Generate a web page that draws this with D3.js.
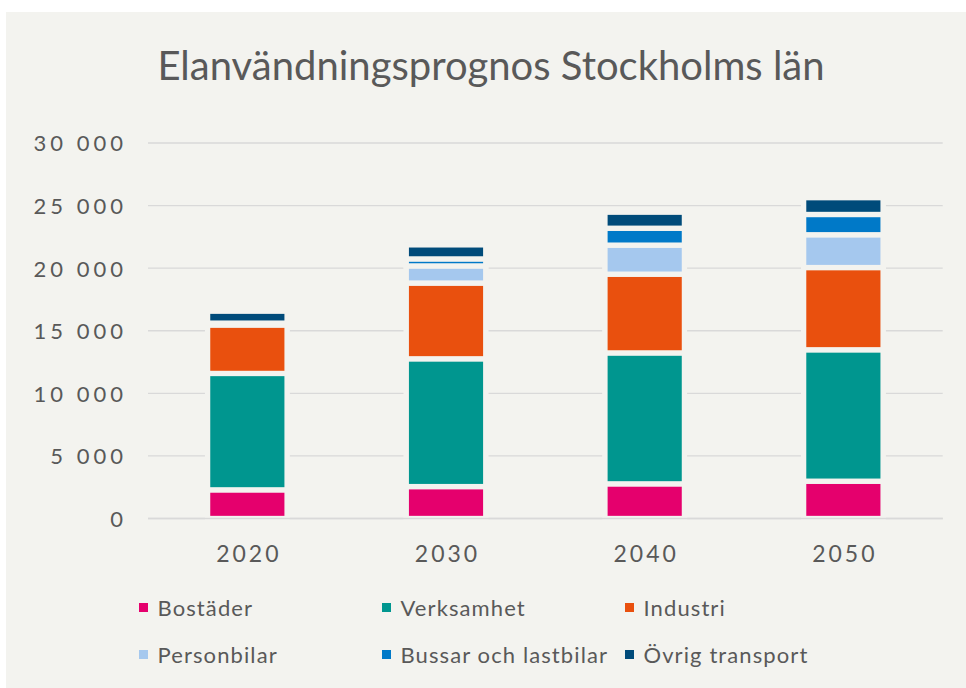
<!DOCTYPE html>
<html>
<head>
<meta charset="utf-8">
<script src="https://cdn.jsdelivr.net/npm/d3@7"></script>
<style>
  html, body { margin: 0; padding: 0; background: #ffffff; }
  text { font-family: Lato, "Noto Sans", sans-serif; fill: #595959; }
</style>
</head>
<body>
<div id="chart"></div>
<script>
// Chart data
var years = ["2020", "2030", "2040", "2050"];
var seriesNames = ["Bostäder", "Verksamhet", "Industri", "Personbilar", "Bussar och lastbilar", "Övrig transport"];
var seriesColors = ["#e5006d", "#00968f", "#e9500e", "#a5c8ee", "#0079c8", "#004b7a"];
var bostader = [2290, 2550, 2770, 2980];
var verksamhet = [9300, 10210, 10460, 10500];
var industri = [3870, 6050, 6290, 6570];
var personbilar = [150, 1370, 2320, 2620];
var bussar = [0, 560, 1350, 1620];
var ovrig = [950, 1120, 1280, 1340];
var yTicks = [0, 5000, 10000, 15000, 20000, 25000, 30000];

var width = 966, height = 688;
var bg = "#f3f3ef";

// build rows for the stack
var rows = years.map(function(y, i) {
  return {
    year: y,
    "Bostäder": bostader[i],
    "Verksamhet": verksamhet[i],
    "Industri": industri[i],
    "Personbilar": personbilar[i],
    "Bussar och lastbilar": bussar[i],
    "Övrig transport": ovrig[i]
  };
});

var svg = d3.select("#chart").append("svg")
  .attr("width", width)
  .attr("height", height);

// panel background
svg.append("rect")
  .attr("x", 6).attr("y", 12)
  .attr("width", width - 6).attr("height", height - 12)
  .attr("fill", bg);

// title
svg.append("text")
  .attr("x", 491).attr("y", 80)
  .attr("text-anchor", "middle")
  .style("font-size", "40px")
  .text("Elanvändningsprognos Stockholms län");

var x = d3.scaleBand()
  .domain(years)
  .range([148, 942.7])
  .paddingInner(0.6)
  .paddingOuter(0.3);

var y = d3.scaleLinear()
  .domain([0, 30000])
  .range([518.5, 143]);

var color = d3.scaleOrdinal().domain(seriesNames).range(seriesColors);

// gridlines
svg.append("g").selectAll("line")
  .data(yTicks)
  .enter().append("line")
  .attr("x1", 148).attr("x2", 942.7)
  .attr("y1", function(d) { return y(d); })
  .attr("y2", function(d) { return y(d); })
  .attr("stroke", "#d9d9d9")
  .attr("stroke-width", 1.3);

// y axis labels (no domain line)
var yAxis = d3.axisLeft(y)
  .tickValues(yTicks)
  .tickSize(0)
  .tickPadding(0)
  .tickFormat(function(d) { return d3.format(",")(d).replace(/,/g, " "); });

var yg = svg.append("g")
  .attr("transform", "translate(127,0)")
  .call(yAxis);
yg.select(".domain").remove();
yg.selectAll("text")
  .attr("fill", "#595959")
  .attr("dy", "0.36em")
  .style("font-size", "22px")
  .style("letter-spacing", "4px")
  .style("font-family", "Lato, sans-serif");

// x axis labels
var xAxis = d3.axisBottom(x).tickSize(0).tickPadding(0);
var xg = svg.append("g")
  .attr("transform", "translate(1.5,562)")
  .call(xAxis);
xg.select(".domain").remove();
xg.selectAll("text")
  .attr("fill", "#595959")
  .attr("dy", 0)
  .style("font-size", "23px")
  .style("letter-spacing", "3px")
  .style("font-family", "Lato, sans-serif");

var stack = d3.stack().keys(seriesNames);
var stacked = stack(rows);

// halo behind each bar so gridlines stop short of the bars
svg.append("g").selectAll("rect")
  .data(rows)
  .enter().append("rect")
  .attr("x", function(d) { return x(d.year) - 2.5; })
  .attr("width", x.bandwidth() + 5)
  .attr("y", function(d, i) { return y(stacked[stacked.length - 1][i][1]) - 2.5; })
  .attr("height", function(d, i) { return y(0) - y(stacked[stacked.length - 1][i][1]) + 2.5; })
  .attr("fill", bg);

// stacked segments
svg.append("g").selectAll("g")
  .data(stacked)
  .enter().append("g")
  .attr("fill", function(d) { return color(d.key); })
  .selectAll("rect")
  .data(function(d) { return d; })
  .enter().append("rect")
  .attr("x", function(d) { return x(d.data.year); })
  .attr("width", x.bandwidth())
  .attr("y", function(d) { return y(d[1]); })
  .attr("height", function(d) { return y(d[0]) - y(d[1]); })
  .attr("stroke", bg)
  .attr("stroke-width", 5.3);

// baseline on top
svg.append("line")
  .attr("x1", 148).attr("x2", 942.7)
  .attr("y1", y(0)).attr("y2", y(0))
  .attr("stroke", "#d9d9d9")
  .attr("stroke-width", 1.3);

// legend
var legendX = [139, 382, 625];
var legendY = [607.5, 654.5];
var legend = svg.append("g").selectAll("g")
  .data(seriesNames)
  .enter().append("g")
  .attr("transform", function(d, i) {
    return "translate(" + legendX[i % 3] + "," + legendY[Math.floor(i / 3)] + ")";
  });

legend.append("rect")
  .attr("x", 0).attr("y", -4.5)
  .attr("width", 9).attr("height", 9)
  .attr("fill", function(d) { return color(d); });

legend.append("text")
  .attr("x", 18.5).attr("y", 8)
  .style("font-size", "22px")
  .style("letter-spacing", "1.1px")
  .text(function(d) { return d; });
</script>
</body>
</html>
